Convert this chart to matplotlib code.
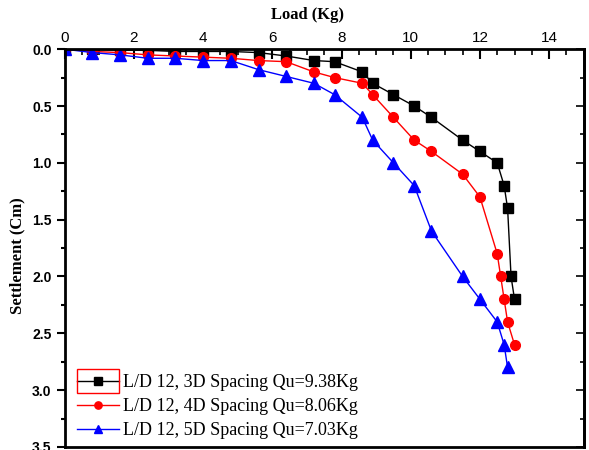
import matplotlib.pyplot as plt
from matplotlib.ticker import MultipleLocator
from matplotlib.patches import Rectangle

# Carga (Kg) y asentamiento (cm)
carga_3d = [0, 0.8, 1.6, 2.4, 3.2, 4.0, 4.8, 5.6, 6.4, 7.2, 7.8, 8.6, 8.9, 9.5,
            10.1, 10.6, 11.5, 12.0, 12.5, 12.7, 12.8, 12.9, 13.0]
asent_3d = [0, 0.0, 0.01, 0.01, 0.02, 0.02, 0.02, 0.03, 0.06, 0.1, 0.11, 0.2, 0.3,
            0.4, 0.5, 0.6, 0.8, 0.9, 1.0, 1.2, 1.4, 2.0, 2.2]

carga_4d = [0, 0.8, 1.6, 2.4, 3.2, 4.0, 4.8, 5.6, 6.4, 7.2, 7.8, 8.6, 8.9, 9.5,
            10.1, 10.6, 11.5, 12.0, 12.5, 12.6, 12.7, 12.8, 13.0]
asent_4d = [0, 0.02, 0.03, 0.05, 0.06, 0.07, 0.08, 0.1, 0.11, 0.2, 0.25, 0.3, 0.4,
            0.6, 0.8, 0.9, 1.1, 1.3, 1.8, 2.0, 2.2, 2.4, 2.6]

carga_5d = [0, 0.8, 1.6, 2.4, 3.2, 4.0, 4.8, 5.6, 6.4, 7.2, 7.8, 8.6, 8.9, 9.5,
            10.1, 10.6, 11.5, 12.0, 12.5, 12.7, 12.8]
asent_5d = [0, 0.03, 0.05, 0.08, 0.08, 0.1, 0.1, 0.18, 0.24, 0.3, 0.4, 0.6, 0.8,
            1.0, 1.2, 1.6, 2.0, 2.2, 2.4, 2.6, 2.8]

etiquetas = ["L/D 12, 3D Spacing Qu=9.38Kg",
             "L/D 12, 4D Spacing Qu=8.06Kg",
             "L/D 12, 5D Spacing Qu=7.03Kg"]

fig = plt.figure(figsize=(5.89, 4.5), dpi=100)
ax = fig.add_axes([0.110, 0.0067, 0.881, 0.884])

ax.plot(carga_3d, asent_3d, color='black', marker='s', markersize=7, lw=1, label=etiquetas[0])
ax.plot(carga_4d, asent_4d, color='red', marker='o', markersize=7, lw=1, label=etiquetas[1])
ax.plot(carga_5d, asent_5d, color='blue', marker='^', markersize=8, lw=1, label=etiquetas[2])

ax.set_xlim(0, 15)
ax.set_ylim(3.5, 0)

# Eje x arriba
ax.xaxis.set_ticks_position('top')
ax.xaxis.set_label_position('top')
ax.xaxis.set_major_locator(MultipleLocator(2))
ax.xaxis.set_minor_locator(MultipleLocator(0.5))
ax.yaxis.set_major_locator(MultipleLocator(0.5))
ax.yaxis.set_minor_locator(MultipleLocator(0.25))

ax.tick_params(axis='x', which='both', direction='in', top=True, bottom=False,
               labelsize=11, pad=3)
ax.tick_params(axis='x', which='major', length=7, width=1.5)
ax.tick_params(axis='x', which='minor', length=4, width=1.2)
ax.tick_params(axis='y', which='both', direction='out', left=True, right=False,
               labelsize=10, width=1.5)
ax.tick_params(axis='y', which='major', length=6)
ax.tick_params(axis='y', which='minor', length=3)
for lab in ax.get_xticklabels():
    lab.set_family('Liberation Sans')
for lab in ax.get_yticklabels():
    lab.set_family('Liberation Sans')
    lab.set_fontweight('bold')

# Ticks hacia dentro en el lado derecho
ax2 = ax.secondary_yaxis('right')
ax2.yaxis.set_major_locator(MultipleLocator(0.5))
ax2.yaxis.set_minor_locator(MultipleLocator(0.25))
ax2.tick_params(which='both', direction='in', labelright=False, width=1.2)
ax2.tick_params(which='major', length=6)
ax2.tick_params(which='minor', length=3)
ax2.spines['right'].set_linewidth(2)

for s in ax.spines.values():
    s.set_linewidth(2)

ax.set_xlabel("Load (Kg)", family='Liberation Serif', fontweight='bold', fontsize=12)
ax.xaxis.set_label_coords(0.468, 1.075)
ax.set_ylabel("Settlement (Cm)", family='Liberation Serif', fontweight='bold', fontsize=12)
ax.yaxis.set_label_coords(-0.075, 0.48)

leg = ax.legend(loc='lower left', bbox_to_anchor=(0.0, -0.012), frameon=False,
                prop={'family': 'Liberation Serif', 'size': 13}, handlelength=2.3,
                handletextpad=0.2, labelspacing=0.38, borderaxespad=0.3,
                markerscale=0.75)

# Recuadro rojo alrededor del primer simbolo (como en la figura original)
caja = Rectangle((77, 450 - 393), 42, 24, transform=None, fill=False, edgecolor='red', lw=1)
fig.add_artist(caja)

fig.savefig("out.png", dpi=100)
